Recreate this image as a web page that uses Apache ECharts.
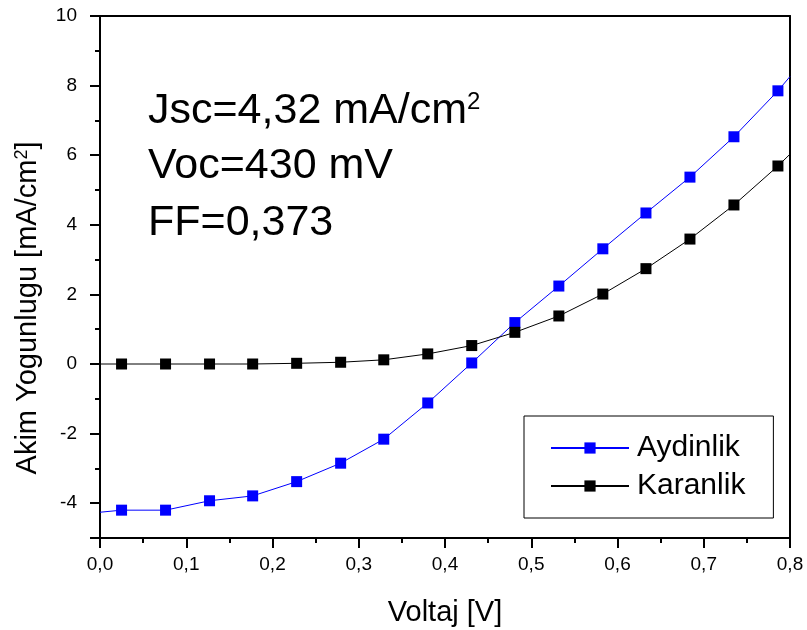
<!DOCTYPE html>
<html>
<head>
<meta charset="utf-8">
<script src="https://cdn.jsdelivr.net/npm/echarts@6/dist/echarts.min.js"></script>
<style>
html,body{margin:0;padding:0;background:#fff;}
#chart{width:807px;height:630px;}
</style>
</head>
<body>
<div id="chart"></div>
<script>
// Voltage (V) at marker positions
var voltaj = [0.025, 0.076, 0.127, 0.177, 0.228, 0.279, 0.329, 0.380, 0.431, 0.481, 0.532, 0.583, 0.633, 0.684, 0.735, 0.786];
// Illuminated current density (mA/cm2)
var aydinlik = [-4.20, -4.20, -3.93, -3.79, -3.38, -2.85, -2.16, -1.12, 0.03, 1.19, 2.24, 3.31, 4.34, 5.37, 6.53, 7.85];
// Dark current density (mA/cm2)
var karanlik = [0.00, 0.00, 0.00, 0.00, 0.02, 0.05, 0.12, 0.29, 0.53, 0.91, 1.38, 2.01, 2.74, 3.59, 4.57, 5.69];
// Line end values at the axis limits (no marker)
var lineStartX = 0.0, lineEndX = 0.8;
var aydinlikEnds = [-4.26, 8.26];
var karanlikEnds = [0.00, 6.03];
// Tick values
var yLabelTicks = [-4, -2, 0, 2, 4, 6, 8, 10];
var yMajorTicks = [-5, -4, -2, 0, 2, 4, 6, 8, 10];
var yMinorTicks = [-3, -1, 1, 3, 5, 7, 9];
var annotations = ['Voc=430 mV', 'FF=0,373'];

var FONT = 'Liberation Sans, Arial, sans-serif';
var tickRich = {t: {fontSize: 19, fontFamily: FONT, color: '#000'}};

function buildData(xs, ys, ends) {
  var d = [{value: [lineStartX, ends[0]], symbol: 'none'}];
  for (var i = 0; i < xs.length; i++) d.push([xs[i], ys[i]]);
  d.push({value: [lineEndX, ends[1]], symbol: 'none'});
  return d;
}

var chart = echarts.init(document.getElementById('chart'), null, {renderer: 'canvas'});
var axisLineStyle = {color: '#000', width: 2};
var option = {
  animation: false,
  backgroundColor: '#fff',
  textStyle: {fontFamily: FONT},
  grid: {left: 100, right: 17, top: 16, bottom: 92, containLabel: false, outerBoundsMode: 'none'},
  xAxis: [{
    type: 'value', position: 'bottom', min: 0, max: 0.8, interval: 0.1,
    name: 'Voltaj [V]', nameLocation: 'middle', nameGap: 60,
    nameTextStyle: {fontSize: 29, color: '#000', fontFamily: FONT},
    axisLine: {show: true, onZero: false, lineStyle: axisLineStyle},
    axisTick: {show: true, inside: false, length: 10, lineStyle: {color: '#000', width: 2}},
    minorTick: {show: true, splitNumber: 2, length: 5, lineStyle: {color: '#000', width: 2}},
    splitLine: {show: false},
    axisLabel: {fontSize: 19, color: '#000', margin: 17, rich: tickRich,
      formatter: function (v) { return '{t|' + v.toFixed(1).replace('.', ',') + '}'; }}
  }, {
    type: 'value', position: 'top', min: 0, max: 0.8, interval: 0.1,
    axisLine: {show: true, onZero: false, lineStyle: axisLineStyle},
    axisTick: {show: false}, axisLabel: {show: false}, splitLine: {show: false}
  }],
  yAxis: [{
    type: 'value', position: 'left', min: -5, max: 10,
    name: '{a|Akim Yogunlugu [mA/cm}{s|2}{a|]}', nameLocation: 'middle', nameGap: 58, nameRotate: 90,
    nameTextStyle: {color: '#000', fontFamily: FONT, padding: [0, 62, 0, 0],
      rich: {a: {fontSize: 29, fontFamily: FONT, color: '#000'},
             s: {fontSize: 18, fontFamily: FONT, color: '#000', verticalAlign: 'top'}}},
    axisLine: {show: true, onZero: false, lineStyle: axisLineStyle},
    axisTick: {show: true, inside: false, length: 10, customValues: yMajorTicks, lineStyle: {color: '#000', width: 2}},
    axisLabel: {fontSize: 19, color: '#000', margin: 23, customValues: yLabelTicks, rich: tickRich,
      formatter: function (v) { return '{t|' + v + '}'; }},
    splitLine: {show: false}
  }, {
    type: 'value', position: 'left', min: -5, max: 10,
    axisLine: {show: false},
    axisTick: {show: true, inside: false, length: 5, customValues: yMinorTicks, lineStyle: {color: '#000', width: 2}},
    axisLabel: {show: false}, splitLine: {show: false}
  }, {
    type: 'value', position: 'right', min: -5, max: 10,
    axisLine: {show: true, onZero: false, lineStyle: axisLineStyle},
    axisTick: {show: false}, axisLabel: {show: false}, splitLine: {show: false}
  }],
  legend: {
    left: 524, top: 416, orient: 'vertical',
    borderColor: '#000', borderWidth: 1, padding: [17, 28, 17, 26],
    itemWidth: 78, itemHeight: 14, itemGap: 8,
    textStyle: {fontSize: 30, color: '#000', fontFamily: FONT, padding: [0, 0, 0, 3]},
    data: ['Aydinlik', 'Karanlik']
  },
  graphic: [
    {type: 'text', left: 148, top: 90, style: {
      text: '{a|Jsc=4,32 mA/cm}{s|2}',
      rich: {a: {fontSize: 43, fontFamily: FONT, fill: '#000', color: '#000'},
             s: {fontSize: 24, fontFamily: FONT, fill: '#000', color: '#000', verticalAlign: 'top', padding: [0, 0, 6, 0]}},
      fill: '#000'}},
    {type: 'text', left: 148, top: 145, style: {text: annotations[0], fontSize: 43, fontFamily: FONT, fill: '#000'}},
    {type: 'text', left: 148, top: 202, style: {text: annotations[1], fontSize: 43, fontFamily: FONT, fill: '#000'}}
  ],
  series: [{
    name: 'Aydinlik', type: 'line', xAxisIndex: 0, yAxisIndex: 0,
    data: buildData(voltaj, aydinlik, aydinlikEnds),
    symbol: 'rect', symbolSize: 11, showAllSymbol: true,
    lineStyle: {color: '#0000ff', width: 1},
    itemStyle: {color: '#0000ff'},
    clip: false
  }, {
    name: 'Karanlik', type: 'line', xAxisIndex: 0, yAxisIndex: 0,
    data: buildData(voltaj, karanlik, karanlikEnds),
    symbol: 'rect', symbolSize: 11, showAllSymbol: true,
    lineStyle: {color: '#000', width: 1},
    itemStyle: {color: '#000'},
    clip: false
  }]
};
chart.setOption(option);
</script>
</body>
</html>
